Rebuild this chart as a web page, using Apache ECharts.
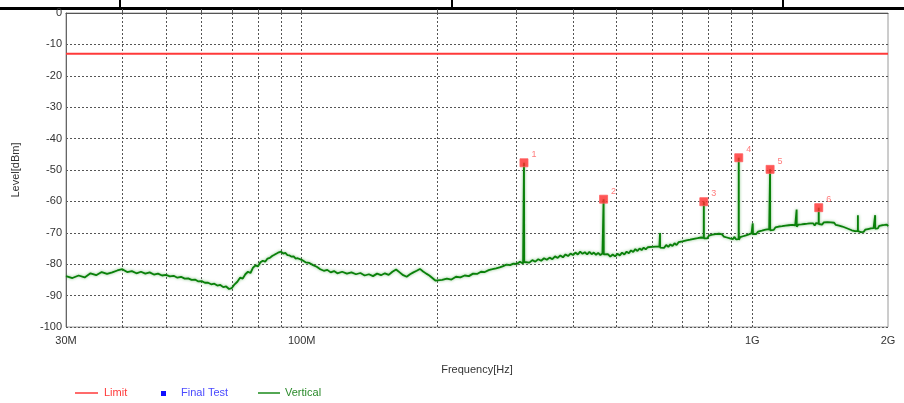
<!DOCTYPE html>
<html>
<head>
<meta charset="utf-8">
<script src="https://cdn.jsdelivr.net/npm/echarts@6/dist/echarts.min.js"></script>
<style>html,body{margin:0;padding:0;background:#fff}#c{width:904px;height:403px}</style>
</head>
<body>
<div id="c"></div>
<script>
// Frequencies in MHz, levels in dBm
var traceFreq = [30,31,32,33,34,35,36,37,38,39,40,41,42,43,44,45,46,47,48,49,50,51,52,53,54,55,56,57,58,59,60,61,62,63,64,65,66,67,68,69,70,71,72,73,74,75,76,77,78,79,80,81,82,83,84,85,86,87,88,89,90,91,92,93,94,95,96,97,98,99,100,
102,104,106,108,110,112,114,116,118,120,123,126,129,132,135,138,141,144,147,150,153,156,159,162,165,168,171,174,177,180,183,186,189,192,195,198,200,
205,210,215,220,225,230,235,240,245,250,255,260,265,270,275,280,285,290,295,300,305,310,311,311.4,311.8,315,320,325,330,335,340,345,350,355,360,365,370,375,380,385,390,395,400,405,410,415,420,425,430,435,440,445,450,455,460,465,467.3,467.7,468.1,
472,478,484,490,496,502,508,514,520,526,532,538,544,550,556,562,568,574,580,586,592,598,604,610,616,622,623.7,624,624.3,630,637,644,651,658,665,672,679,686,693,700,707,714,721,728,735,742,749,756,763,770,776,780,780.5,781,787,794,801,808,815,822,829,836,843,850,857,864,871,878,885,892,899,906,913,920,926,932.5,933,933.5,
940,947,954,961,968,975,982,989,996,1000.5,1002,1003.5,1010,1020,1030,1040,1050,1060,1070,1080,1090,1094.5,1095,1095.5,1105,1115,1125,1135,1145,1155,1165,1175,1185,1195,1205,1215,1225,1235,1245,1253.5,1254,1254.5,1265,1275,1285,1295,1305,1315,1325,1335,1345,1355,1365,1375,1385,1395,1403.5,1404,1404.5,
1415,1428,1441,1454,1467,1480,1493,1506,1519,1532,1545,1558,1571,1584,1597,1610,1623,1636,1649,1662,1675,1688,1701,1714.5,1715,1715.5,1728,1741,1754,1767,1780,1793,1806,1819,1832,1845,1858,1872.5,1873,1873.5,1886,1899,1912,1925,1938,1951,1964,1977,1990,2000];
var traceLevel = [-83.8,-84.4,-83.6,-84.2,-82.9,-83.5,-82.5,-83.1,-82.6,-82.0,-81.6,-82.5,-82.2,-82.9,-82.4,-83.0,-82.6,-83.3,-83.0,-83.6,-83.4,-83.9,-83.7,-84.3,-84.0,-84.6,-84.5,-85.0,-84.9,-85.5,-85.4,-85.9,-85.9,-86.4,-86.2,-86.8,-86.6,-87.3,-87.1,-87.9,-87.6,-86.4,-85.6,-84.3,-84.6,-83.2,-82.4,-82.8,-81.1,-80.4,-80.7,-79.4,-78.9,-79.2,-78.2,-78.0,-77.4,-77.0,-76.6,-76.2,-76.0,-76.6,-76.4,-77.1,-77.2,-77.6,-77.5,-78.2,-78.1,-78.7,-78.6,
-79.4,-79.6,-80.3,-80.8,-81.6,-82.1,-81.8,-82.6,-82.2,-82.9,-82.4,-83.0,-82.6,-83.2,-82.8,-83.6,-83.2,-83.8,-83.0,-83.5,-82.9,-83.4,-82.4,-81.7,-82.6,-83.5,-84.0,-83.2,-82.6,-82.1,-81.5,-82.3,-83.0,-83.6,-84.4,-85.2,-85.8,
-85.0,-84.6,-84.9,-84.0,-84.2,-83.6,-83.8,-83.0,-83.1,-82.4,-82.5,-81.9,-81.6,-81.3,-81.0,-80.6,-80.1,-80.3,-79.8,-79.9,-79.2,-79.8,-79.4,-47.7,-79.3,-78.8,-79.5,-78.7,-79.2,-78.4,-78.9,-78.1,-78.6,-77.9,-78.4,-77.5,-78.0,-77.2,-77.8,-76.9,-77.4,-76.6,-77.1,-76.3,-76.9,-76.0,-76.7,-76.2,-76.9,-76.1,-76.8,-76.3,-77.0,-76.4,-77.1,-76.6,-76.8,-59.3,-76.9,
-77.4,-76.8,-77.6,-76.9,-77.5,-76.7,-77.2,-76.3,-76.9,-76.0,-76.5,-75.6,-76.1,-75.2,-75.8,-75.0,-75.5,-74.7,-75.3,-74.6,-75.1,-74.5,-75.0,-74.4,-74.9,-74.3,-74.6,-70.1,-74.7,-74.2,-74.8,-73.9,-74.5,-73.7,-74.2,-73.3,-73.9,-73.0,-73.5,-72.7,-73.3,-72.4,-73.0,-72.2,-72.7,-71.9,-72.5,-71.7,-72.2,-71.5,-72.0,-71.6,-60.1,-71.8,-71.2,-71.8,-70.9,-71.5,-70.6,-71.2,-70.4,-71.0,-70.3,-70.9,-70.5,-71.2,-70.7,-71.5,-71.0,-71.8,-71.2,-72.0,-71.3,-72.1,-71.5,-72.0,-46.1,-72.2,
-71.4,-72.0,-71.1,-71.6,-70.8,-71.3,-70.5,-71.0,-70.2,-70.6,-67.0,-70.4,-69.9,-70.4,-69.6,-70.1,-69.3,-69.8,-69.0,-69.6,-68.8,-69.3,-49.8,-69.2,-68.6,-69.1,-68.3,-68.8,-68.0,-68.6,-67.9,-68.4,-67.7,-68.3,-67.6,-68.2,-67.5,-68.1,-67.6,-68.0,-62.6,-68.1,-67.4,-68.0,-67.3,-67.9,-67.2,-67.8,-67.1,-67.7,-67.0,-67.6,-67.0,-67.7,-66.9,-67.5,-67.1,-62.0,-67.2,
-66.8,-67.4,-66.7,-67.3,-66.6,-67.2,-66.7,-67.3,-66.8,-67.5,-67.0,-67.7,-67.3,-68.0,-67.6,-68.4,-68.0,-68.8,-68.5,-69.2,-68.8,-69.5,-69.0,-69.4,-64.4,-69.5,-69.1,-69.8,-69.2,-69.7,-69.0,-69.5,-68.8,-69.3,-68.6,-69.1,-68.5,-68.8,-64.4,-68.7,-68.1,-68.6,-67.8,-68.3,-67.6,-68.1,-67.5,-68.0,-67.4,-67.9];

var markerFreq = [311.4, 467.7, 780.5, 933, 1095, 1404];
var markerLevel = [-47.7, -59.3, -60.1, -46.1, -49.8, -62.0];
var markerLabel = ['1','2','3','4','5','6'];

var limitFreq = [30, 2000];
var limitLevel = [-13, -13];

var xLabelValues = [30, 100, 1000, 2000];
var xTickValues = [40,50,60,70,80,90,100,200,300,400,500,600,700,800,900,1000];

function zip(a, b) { return a.map(function (v, i) { return [v, b[i]]; }); }

var chart = echarts.init(document.getElementById('c'), null, {renderer: 'canvas'});
var font = 'Liberation Sans, Arial, sans-serif';
chart.setOption({
  animation: false,
  textStyle: {fontFamily: font},
  grid: {left: 66, right: 16, top: 13, bottom: 76, show: true, borderColor: '#9a9a9a', borderWidth: 1},
  xAxis: {
    type: 'log', logBase: 10, min: 30, max: 2000,
    name: 'Frequency[Hz]', nameLocation: 'middle', nameGap: 37,
    nameTextStyle: {color: '#333', fontSize: 11, fontFamily: font},
    axisLine: {show: true, lineStyle: {color: '#555', width: 1}},
    axisTick: {show: true, inside: true, length: 4, customValues: xTickValues, lineStyle: {color: '#555'}},
    axisLabel: {customValues: xLabelValues, color: '#333', fontSize: 11, fontFamily: font, margin: 8,
      formatter: function (v) { var r = Math.round(v); return r >= 1000 ? (r / 1000) + 'G' : r + 'M'; }},
    splitLine: {show: true, lineStyle: {color: '#555', type: [2, 2], width: 1}},
    minorTick: {show: false}, minorSplitLine: {show: false}
  },
  yAxis: {
    type: 'value', min: -100, max: 0, interval: 10,
    name: 'Level[dBm]', nameLocation: 'middle', nameGap: 45,
    nameTextStyle: {color: '#333', fontSize: 11, fontFamily: font},
    axisLine: {show: true, lineStyle: {color: '#666', width: 1}},
    axisTick: {show: false},
    axisLabel: {color: '#333', fontSize: 11, fontFamily: font, margin: 4},
    splitLine: {show: true, lineStyle: {color: '#555', type: [2, 2], width: 1}}
  },
  series: [
    {
      name: 'Vertical', type: 'line', data: zip(traceFreq, traceLevel),
      symbol: 'none',
      lineStyle: {color: '#0a800a', width: 1.8, shadowColor: 'rgba(20,140,20,0.55)', shadowBlur: 3},
      itemStyle: {color: '#0a800a'}, z: 3
    },
    {
      name: 'Limit', type: 'line', data: zip(limitFreq, limitLevel),
      symbol: 'none', lineStyle: {color: '#ff3a3a', width: 2}, itemStyle: {color: '#ff3a3a'}, z: 4
    },
    {
      name: 'Final Test', type: 'scatter', data: zip(markerFreq, markerLevel),
      symbol: 'rect', symbolSize: 8,
      itemStyle: {color: '#ff2a2a', borderColor: '#ff6060', borderWidth: 1},
      label: {show: true, position: 'right', distance: 3, offset: [0, -8], color: '#ff5a5a', fontSize: 9, fontFamily: font,
        formatter: function (p) { return markerLabel[p.dataIndex]; }},
      z: 5
    }
  ],
  graphic: [
    {type: 'rect', shape: {x: 0, y: 7, width: 904, height: 3}, style: {fill: '#000'}, silent: true},
    {type: 'rect', shape: {x: 119, y: 0, width: 2, height: 8}, style: {fill: '#000'}, silent: true},
    {type: 'rect', shape: {x: 451, y: 0, width: 2, height: 8}, style: {fill: '#000'}, silent: true},
    {type: 'rect', shape: {x: 782, y: 0, width: 2, height: 8}, style: {fill: '#000'}, silent: true},
    {type: 'line', shape: {x1: 75, y1: 393, x2: 98, y2: 393}, style: {stroke: '#ff3a3a', lineWidth: 1.5}, silent: true},
    {type: 'text', x: 104, y: 393, style: {text: 'Limit', fill: '#ff3a3a', font: '11px ' + font, verticalAlign: 'middle'}, silent: true},
    {type: 'rect', shape: {x: 161, y: 391, width: 5, height: 5}, style: {fill: '#1010ff'}, silent: true},
    {type: 'text', x: 181, y: 393, style: {text: 'Final Test', fill: '#4a4aff', font: '11px ' + font, verticalAlign: 'middle'}, silent: true},
    {type: 'line', shape: {x1: 258, y1: 393, x2: 280, y2: 393}, style: {stroke: '#1a8a1a', lineWidth: 1.5}, silent: true},
    {type: 'text', x: 285, y: 393, style: {text: 'Vertical', fill: '#2a8a2a', font: '11px ' + font, verticalAlign: 'middle'}, silent: true}
  ]
});
</script>
</body>
</html>
